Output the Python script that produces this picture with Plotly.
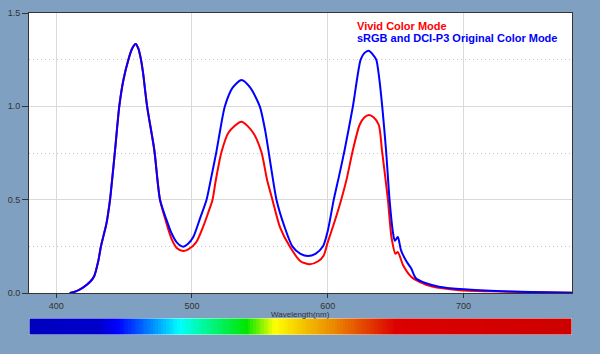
import plotly.graph_objects as go

# ---------------- data ----------------
blue_nm = [410, 415, 420, 425, 428, 431, 433, 435, 437, 439.7, 441, 443.4, 446.5, 449.5, 453.2, 456,
           458.6, 460.5, 462.5, 464, 467, 472.3, 476.5, 481.4, 485, 489, 493.6, 497, 501, 506, 510.8,
           514, 518, 521, 524.3, 530, 536.5, 543, 550, 554, 558.6, 562.3, 568, 574, 580, 585.5, 591,
           596.6, 600, 604.5, 608.5, 612.5, 618.6, 624.3, 627, 630.4, 633, 635.8, 638, 640.2, 643,
           645.6, 648, 649.5, 651.7, 654, 658, 661.5, 665, 672.5, 682, 697, 720, 750, 780]
blue_val = [0.0, 0.01, 0.03, 0.06, 0.09, 0.17, 0.25, 0.31, 0.37, 0.5, 0.59, 0.766, 1.0, 1.14, 1.25, 1.31,
            1.334, 1.31, 1.25, 1.18, 1.0, 0.766, 0.5, 0.39, 0.32, 0.27, 0.248, 0.262, 0.30, 0.40, 0.5,
            0.61, 0.755, 0.88, 1.0, 1.10, 1.141, 1.10, 1.0, 0.87, 0.66, 0.5, 0.36, 0.25, 0.21, 0.198, 0.21,
            0.25, 0.33, 0.5, 0.63, 0.766, 1.0, 1.25, 1.285, 1.298, 1.28, 1.25, 1.15, 1.0, 0.766,
            0.5, 0.33, 0.28, 0.30, 0.23, 0.17, 0.132, 0.079, 0.052, 0.034, 0.021, 0.012, 0.005, 0.002]

red_nm = [410, 415, 420, 425, 428, 431, 433, 435, 437, 439.7, 441, 443.4, 446.5, 449.5, 453.2, 456,
          458.6, 460.5, 462.5, 464, 467, 472.3, 476.5, 481.4, 485, 489, 493.6, 497, 503, 508, 512,
          515.2, 517.5, 521.8, 527, 536.5, 545, 551.2, 555.4, 559.3, 565, 572, 580, 586.8, 593, 597,
          600, 605, 610, 614, 618.6, 623.5, 627, 630.4, 634, 637.7, 640, 644.4, 647, 650, 651.7,
          655.5, 661.5, 667.6, 677, 697, 720, 750, 780]
red_val = [0.0, 0.01, 0.03, 0.06, 0.09, 0.17, 0.25, 0.31, 0.37, 0.5, 0.59, 0.766, 1.0, 1.14, 1.25, 1.31,
           1.334, 1.31, 1.25, 1.18, 1.0, 0.766, 0.5, 0.37, 0.29, 0.24, 0.225, 0.232, 0.27, 0.35, 0.43,
           0.5, 0.6, 0.755, 0.86, 0.918, 0.86, 0.755, 0.605, 0.5, 0.35, 0.25, 0.17, 0.154, 0.17, 0.2,
           0.27, 0.38, 0.5, 0.61, 0.766, 0.9, 0.94, 0.953, 0.94, 0.9, 0.766, 0.5, 0.30, 0.21, 0.22,
           0.15, 0.087, 0.06, 0.034, 0.015, 0.009, 0.004, 0.001]

x_ticks = [400, 500, 600, 700]
y_ticks = [0.0, 0.5, 1.0, 1.5]
y_tick_text = ["0.0", "0.5", "1.0", "1.5"]
y_minor = [0.25, 0.75, 1.25]

series_names = ["Vivid Color Mode", "sRGB and DCI-P3 Original Color Mode"]

# decorative spectrum strip (wavelength positions and colour stops)
strip_nm = list(range(380, 781, 2))
spectrum_stops = [
    [0.0, "rgb(0,0,190)"], [0.13, "rgb(0,0,205)"], [0.1625, "rgb(0,0,255)"],
    [0.2, "rgb(0,80,255)"], [0.2775, "rgb(0,255,255)"], [0.315, "rgb(0,250,170)"],
    [0.4, "rgb(0,230,0)"], [0.4525, "rgb(255,255,0)"], [0.5, "rgb(245,200,0)"],
    [0.5575, "rgb(235,140,0)"], [0.675, "rgb(220,0,0)"], [1.0, "rgb(205,0,0)"],
]

BG = "#7fa0c0"
FONT = "Liberation Sans, Arial, sans-serif"

fig = go.Figure()
fig.add_trace(go.Scatter(x=red_nm, y=red_val, mode="lines", name=series_names[0],
                         line=dict(color="#ff0000", width=2, shape="spline", smoothing=0.7),
                         xaxis="x", yaxis="y"))
fig.add_trace(go.Scatter(x=blue_nm, y=blue_val, mode="lines", name=series_names[1],
                         line=dict(color="#0000ff", width=2, shape="spline", smoothing=0.7),
                         xaxis="x", yaxis="y"))
fig.add_trace(go.Heatmap(x=strip_nm, y=[0.5], z=[strip_nm], colorscale=spectrum_stops,
                         zmin=380, zmax=780, showscale=False, xaxis="x2", yaxis="y2",
                         hoverinfo="skip"))

main_bottom = (335 - 293) / 322
strip_top = (335 - 318) / 322

fig.update_layout(
    width=600, height=354,
    margin=dict(l=29, r=28, t=13, b=19, autoexpand=False),
    paper_bgcolor=BG, plot_bgcolor="white",
    showlegend=False,
    font=dict(family=FONT, size=9, color="#333333"),
    xaxis=dict(domain=[0, 1], anchor="y", range=[380, 780], tickvals=x_ticks,
               ticks="outside", ticklen=4, tickcolor="#333333", automargin=False,
               showgrid=True, gridcolor="#d9d9d9", gridwidth=1,
               showline=True, linecolor="#333333", linewidth=1, mirror=True,
               zeroline=False, tickfont=dict(size=9, color="#333333")),
    yaxis=dict(domain=[main_bottom, 1], anchor="x", range=[0, 1.5], tickvals=y_ticks,
               ticktext=y_tick_text, ticks="outside", ticklen=6, tickcolor="#333333",
               automargin=False,
               showgrid=True, gridcolor="#d9d9d9", gridwidth=1,
               minor=dict(tickvals=y_minor, showgrid=True, gridcolor="#c4c4c4",
                          griddash="1px,3px", gridwidth=1, ticks=""),
               showline=True, linecolor="#333333", linewidth=1, mirror=True,
               zeroline=False, tickfont=dict(size=9, color="#333333")),
    xaxis2=dict(domain=[0, 1], anchor="y2", range=[380, 780], visible=False),
    yaxis2=dict(domain=[0, strip_top], anchor="x2", range=[0, 1], visible=False),
)

fig.add_shape(type="rect", xref="x2", yref="y2", x0=380, x1=780, y0=0, y1=1,
              line=dict(color="#e8eef5", width=1), fillcolor="rgba(0,0,0,0)")

fig.add_annotation(text="Wavelength(nm)", xref="paper", yref="paper", x=0.5,
                   y=(335 - 314) / 322, showarrow=False, xanchor="center", yanchor="middle",
                   font=dict(size=8, color="#333333", family=FONT))
fig.add_annotation(text="<b>" + series_names[0] + "</b>", xref="paper", yref="paper",
                   x=(355 - 29) / 543, y=(335 - 25.5) / 322, showarrow=False,
                   xanchor="left", yanchor="middle",
                   font=dict(size=11, color="#ff0000", family=FONT))
fig.add_annotation(text="<b>" + series_names[1] + "</b>", xref="paper", yref="paper",
                   x=(355 - 29) / 543, y=(335 - 38.5) / 322, showarrow=False,
                   xanchor="left", yanchor="middle",
                   font=dict(size=11, color="#0000ff", family=FONT))

fig.write_html("out.html")
